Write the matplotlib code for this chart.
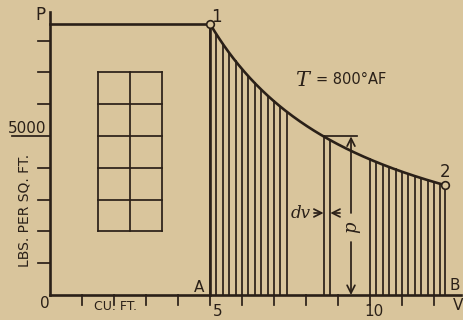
import numpy as np
import matplotlib
matplotlib.use("Agg")
import matplotlib.pyplot as plt

# isothermal expansion, p*v = const (T = 800 deg abs F)
pv_const = 42640.0
v1 = 5.0
v2 = 12.35
p1 = pv_const / v1

# hatch lines under the curve (cu ft)
hatch_left = [5.0, 5.2, 5.4, 5.6, 5.8, 6.0, 6.2, 6.4, 6.6, 6.8, 7.0, 7.2, 7.4]
hatch_right = [10.0, 10.2, 10.4, 10.6, 10.8, 11.0, 11.2, 11.4, 11.6, 11.8, 12.0, 12.2, 12.35]
strip = [8.55, 8.76]

x_ticks = [1, 2, 3, 4, 5, 6, 7, 8, 9, 10, 11, 12]
y_ticks = [1000, 2000, 3000, 4000, 5000, 6000, 7000, 8000]

# unit grid (2 cu ft x 5000 lb/sq ft)
grid_v = [1.5, 2.5, 3.5]
grid_p = [2000, 3000, 4000, 5000, 6000, 7000]

bg = "#d9c59c"
ink = "#2a2018"


def pres(v):
    return pv_const / np.asarray(v)


# pixel -> data helpers used only for label placement
def px(x):
    return (x - 50) / 32.0


def py(y):
    return (295 - y) / 31.8 * 1000


fig = plt.figure(figsize=(4.64, 3.2), dpi=100, facecolor=bg)
ax = fig.add_axes([0, 0, 1, 1])
ax.set_facecolor(bg)
ax.set_xlim(px(0), px(464))
ax.set_ylim(py(320), py(0))
ax.axis("off")

lw_axis = 1.9
lw = 1.25

# axes
ax.plot([0, 0], [0, py(12)], color=ink, lw=lw_axis)
ax.plot([0, px(461)], [0, 0], color=ink, lw=lw_axis)
for t in x_ticks:
    ax.plot([t, t], [0, py(305)], color=ink, lw=lw)
for t in y_ticks:
    x0 = px(12) if t == 5000 else px(38)
    ax.plot([x0, 0], [t, t], color=ink, lw=lw)

# top line and curve
ax.plot([0, v1], [p1, p1], color=ink, lw=lw_axis)
vv = np.linspace(v1, v2, 200)
ax.plot(vv, pres(vv), color=ink, lw=lw_axis)

# hatching
for v in hatch_left + hatch_right + strip:
    ax.plot([v, v], [0, pres(v)], color=ink, lw=lw)
ax.plot([v1, v1], [0, p1], color=ink, lw=lw_axis)

# cap over the strip and p arrow
p_cap = pres(strip[0])
ax.plot([strip[0], px(357)], [p_cap, p_cap], color=ink, lw=lw)
xa = px(351)
arr = dict(arrowstyle="->", color=ink, lw=lw, mutation_scale=14, shrinkA=0, shrinkB=0)
ax.annotate("", xy=(xa, p_cap), xytext=(xa, py(213)), arrowprops=arr)
ax.annotate("", xy=(xa, 0), xytext=(xa, py(242)), arrowprops=arr)
ax.text(xa, py(227), "p", rotation=90, ha="center", va="center",
        fontsize=13, family="DejaVu Serif", style="italic", color=ink)

# dv arrows
p_dv = py(213)
ax.annotate("", xy=(strip[0], p_dv), xytext=(px(314), p_dv), arrowprops=arr)
ax.annotate("", xy=(strip[1], p_dv), xytext=(px(340), p_dv), arrowprops=arr)
ax.text(px(301), p_dv, "dv", ha="center", va="center", fontsize=12,
        family="DejaVu Serif", style="italic", color=ink)

# end points
ax.plot([v1, v2], [p1, pres(v2)], "o", ms=5.5, mfc=bg, mec=ink, mew=1.2, zorder=5)

# unit grid
for v in grid_v:
    ax.plot([v, v], [grid_p[0], grid_p[-1]], color=ink, lw=lw)
for p in grid_p:
    ax.plot([grid_v[0], grid_v[-1]], [p, p], color=ink, lw=lw)

# labels
fs = dict(color=ink, family="DejaVu Sans")
ax.text(px(40), py(15), "P", ha="center", va="center", fontsize=12, **fs)
ax.text(px(216), py(17), "1", ha="center", va="center", fontsize=12, **fs)
ax.text(px(445), py(172), "2", ha="center", va="center", fontsize=12, **fs)
ax.text(px(199), py(287), "A", ha="center", va="center", fontsize=11, **fs)
ax.text(px(455), py(285), "B", ha="center", va="center", fontsize=11, **fs)
ax.text(px(458), py(306), "V", ha="center", va="center", fontsize=11, **fs)
ax.text(px(45), py(303), "0", ha="center", va="center", fontsize=11, **fs)
ax.text(px(218), py(312), "5", ha="center", va="center", fontsize=11, **fs)
ax.text(px(374), py(312), "10", ha="center", va="center", fontsize=11, **fs)
ax.text(px(27), py(129), "5000", ha="center", va="center", fontsize=11, **fs)
ax.text(px(116), py(306), "CU. FT.", ha="center", va="center", fontsize=9, **fs)
ax.text(px(25), py(210), "LBS. PER SQ. FT.", ha="center", va="center",
        rotation=90, fontsize=10, **fs)
ax.text(px(302), py(80), "T", ha="center", va="center", fontsize=15,
        family="DejaVu Serif", style="italic", color=ink)
ax.text(px(351), py(80), "= 800°AF", ha="center", va="center", fontsize=10.5, **fs)

fig.savefig("out.png", dpi=100, facecolor=bg)
